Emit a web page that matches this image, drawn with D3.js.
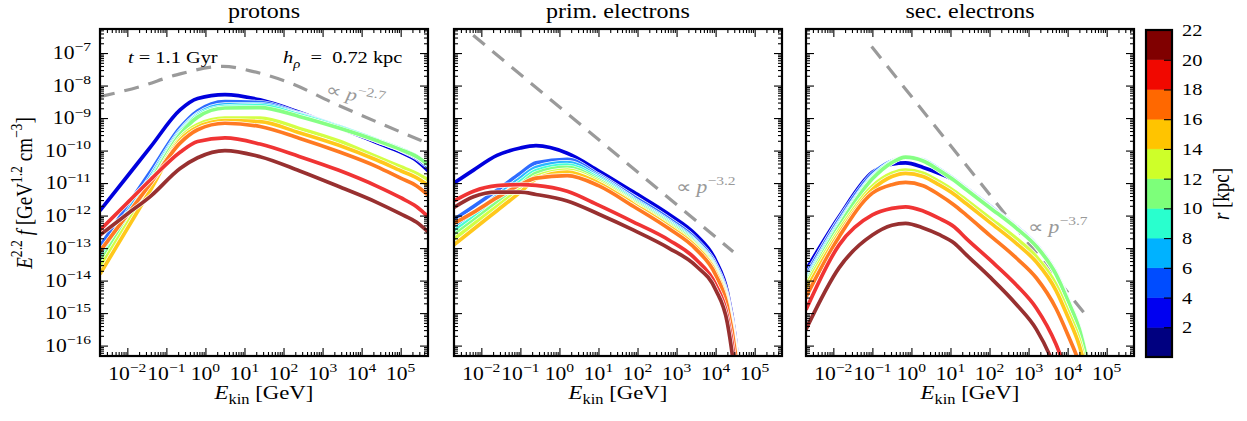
<!DOCTYPE html>
<html><head><meta charset="utf-8">
<script src="https://cdn.jsdelivr.net/npm/d3@7"></script>
<style>
body{margin:0;background:#fff}
text{font-family:"Liberation Serif","Times New Roman",serif;fill:#000;white-space:pre}
</style>
</head><body>
<svg id="chart" width="1247" height="421"></svg>
<script>
// ---------------- DATA ----------------
const panelTitles = ["protons", "prim. electrons", "sec. electrons"];
const radii = [3, 5, 7, 9, 11, 13, 15, 17, 19, 21];           // kpc, one curve each
const lineColors = ["#0000dd", "#2e6cff", "#2ab8ff", "#45ffd5", "#86ff84",
                    "#d3ff45", "#ffc81c", "#ff7a22", "#f03434", "#983030"];
const cbBounds = [0, 2, 4, 6, 8, 10, 12, 14, 16, 18, 20, 22];
const cbColors = ["#000080", "#0000f1", "#004cff", "#00b2ff", "#29ffce", "#7dff7a",
                  "#ceff29", "#ffc400", "#ff6800", "#f10800", "#800000"];
const cbTicks = [2, 4, 6, 8, 10, 12, 14, 16, 18, 20, 22];
const xTickExps = [-2, -1, 0, 1, 2, 3, 4, 5];
const yTickExps = [-16, -15, -14, -13, -12, -11, -10, -9, -8, -7];

// log10(E_kin / GeV) grids and log10(E^2.2 f) values per curve (r = 3 ... 21 kpc)
const protonLogE = [-2.7, -2.0, -1.4, -0.65, -0.2, 0.5, 1.4, 2.4, 3.4, 4.4, 5.0, 5.4, 5.7];
const protonCurves = [
  [-11.85, -10.79, -9.88, -8.75, -8.40, -8.28, -8.44, -8.82, -9.28, -9.76, -10.05, -10.30, -10.62],
  [-12.95, -11.70, -10.64, -9.30, -8.78, -8.49, -8.52, -8.86, -9.25, -9.70, -9.98, -10.22, -10.50],
  [-13.20, -11.90, -10.79, -9.40, -8.88, -8.59, -8.58, -8.88, -9.25, -9.68, -9.95, -10.18, -10.44],
  [-13.35, -12.02, -10.88, -9.45, -8.92, -8.65, -8.62, -8.90, -9.27, -9.68, -9.95, -10.17, -10.42],
  [-13.45, -12.10, -10.94, -9.50, -8.97, -8.69, -8.68, -8.95, -9.30, -9.70, -9.97, -10.18, -10.43],
  [-13.60, -12.24, -11.07, -9.62, -9.20, -9.00, -9.00, -9.32, -9.70, -10.20, -10.50, -10.70, -10.90],
  [-13.80, -12.40, -11.20, -9.68, -9.28, -9.08, -9.11, -9.45, -9.83, -10.30, -10.62, -10.83, -11.06],
  [-13.10, -11.97, -11.00, -9.77, -9.36, -9.16, -9.26, -9.62, -10.03, -10.50, -10.85, -11.08, -11.37],
  [-12.45, -11.61, -10.89, -10.05, -9.72, -9.61, -9.80, -10.18, -10.60, -11.10, -11.45, -11.72, -12.03],
  [-12.60, -11.95, -11.40, -10.55, -10.22, -10.00, -10.19, -10.62, -11.10, -11.60, -11.95, -12.20, -12.50]
];
const protonRefLogE = [-2.7, -1.67, -0.74, 0.45, 1.23, 2.17, 3.28, 4.47, 5.7];
const protonRefLogF = [-8.34, -8.03, -7.67, -7.41, -7.57, -7.92, -8.54, -9.16, -9.78];

const primLogE = [-2.7, -2.2, -1.6, -1.0, -0.6, 0.2, 1.0, 1.9, 2.8, 3.5, 4.0, 4.3, 4.5, 4.6];
const primCurves = [
  [-11.00, -10.60, -10.15, -9.92, -9.85, -10.08, -10.62, -11.28, -11.96, -12.60, -13.38, -14.35, -15.75, -16.95],
  [-12.12, -11.72, -11.22, -10.70, -10.38, -10.27, -10.75, -11.42, -12.10, -12.74, -13.52, -14.49, -15.89, -17.09],
  [-12.35, -11.95, -11.40, -10.85, -10.52, -10.37, -10.80, -11.49, -12.17, -12.81, -13.59, -14.56, -15.96, -17.16],
  [-12.48, -12.05, -11.50, -10.95, -10.62, -10.45, -10.85, -11.53, -12.21, -12.85, -13.63, -14.60, -16.00, -17.20],
  [-12.60, -12.15, -11.60, -11.05, -10.70, -10.52, -10.90, -11.57, -12.25, -12.89, -13.67, -14.64, -16.04, -17.24],
  [-12.72, -12.27, -11.72, -11.17, -10.80, -10.60, -10.95, -11.61, -12.29, -12.93, -13.71, -14.68, -16.08, -17.28],
  [-12.90, -12.42, -11.85, -11.28, -10.88, -10.66, -11.00, -11.65, -12.33, -12.97, -13.75, -14.72, -16.12, -17.32],
  [-12.24, -11.90, -11.45, -11.05, -10.85, -10.77, -11.08, -11.72, -12.40, -13.04, -13.82, -14.79, -16.19, -17.39],
  [-11.55, -11.25, -11.08, -11.05, -11.07, -11.25, -11.68, -12.20, -12.75, -13.35, -14.12, -15.10, -16.60, -17.80],
  [-11.75, -11.42, -11.28, -11.28, -11.35, -11.55, -11.95, -12.45, -13.00, -13.55, -14.28, -15.30, -17.00, -18.20]
];
const primRefLogE = [-2.7, 4.45];
const primRefLogF = [-5.96, -13.11];

const secLogE = [-2.7, -1.85, -1.0, -0.5, -0.15, 0.3, 0.7, 1.1, 1.4, 2.0, 2.7, 3.2, 3.7, 4.0, 4.3, 4.6];
const secCurves = [
  [-13.68, -12.03, -10.67, -10.42, -10.38, -10.52, -10.70, -10.92, -11.18, -11.73, -12.38, -12.93, -13.78, -14.58, -15.48, -16.98],
  [-13.85, -12.12, -10.72, -10.32, -10.20, -10.28, -10.56, -10.88, -11.15, -11.70, -12.35, -12.90, -13.75, -14.55, -15.45, -16.95],
  [-13.95, -12.22, -10.80, -10.34, -10.20, -10.29, -10.57, -10.89, -11.17, -11.72, -12.37, -12.92, -13.77, -14.57, -15.47, -16.97],
  [-14.02, -12.27, -10.83, -10.35, -10.19, -10.31, -10.59, -10.91, -11.19, -11.74, -12.39, -12.94, -13.79, -14.59, -15.49, -16.99],
  [-14.08, -12.32, -10.87, -10.37, -10.20, -10.32, -10.60, -10.92, -11.20, -11.75, -12.40, -12.95, -13.80, -14.60, -15.50, -17.00],
  [-14.15, -12.45, -11.10, -10.70, -10.60, -10.70, -10.95, -11.25, -11.52, -12.07, -12.72, -13.27, -14.12, -14.92, -15.82, -17.30],
  [-14.29, -12.55, -11.20, -10.80, -10.70, -10.80, -11.05, -11.35, -11.63, -12.20, -12.87, -13.43, -14.30, -15.10, -16.00, -17.40],
  [-14.50, -12.65, -11.31, -11.05, -10.98, -11.08, -11.35, -11.68, -11.98, -12.60, -13.32, -13.92, -14.85, -15.65, -16.55, -17.90],
  [-14.90, -12.90, -11.98, -11.78, -11.73, -11.86, -12.08, -12.35, -12.70, -13.35, -14.15, -14.85, -15.95, -16.90, -17.90, -19.00],
  [-15.50, -13.60, -12.60, -12.30, -12.24, -12.38, -12.58, -12.85, -13.20, -13.88, -14.75, -15.50, -16.75, -17.80, -19.00, -20.00]
];
const secRefLogE = [-1.02, 4.57];
const secRefLogF = [-6.80, -15.22];

const refLabels = ["−2.7", "−3.2", "−3.7"];

// ---------------- LAYOUT ----------------
const svg = d3.select("#chart");
const SX = 1.2;               // horizontal glyph stretch of the reference
const panelX = [100, 454, 806], PW = 328, PT = 29, PB = 356;
const xDomain = [Math.pow(10, -2.7), Math.pow(10, 5.7)];
const yDomain = [Math.pow(10, -16.32), Math.pow(10, -6.26)];
const y = d3.scaleLog().domain(yDomain).range([PB, PT]);

function rich(parent, x, yy, parts, o = {}) {
  const size = o.size || 17, rot = o.rot || 0, supR = o.supR || 0.72;
  const tr = o.vert ? `translate(${x},${yy}) rotate(${rot}) scale(1,${SX})`
                    : `translate(${x},${yy}) rotate(${rot}) scale(${SX},1)`;
  const t = parent.append("text").attr("transform", tr)
    .attr("text-anchor", o.anchor || "start").style("font-size", size + "px");
  if (o.fill) t.style("fill", o.fill);
  let cur = 0;
  parts.forEach(p => {
    if (typeof p === "string") p = { t: p };
    const s = t.append("tspan").text(p.t);
    const target = p.sup ? -size * 0.42 : p.sub ? size * 0.28 : 0;
    if (target !== cur) { s.attr("dy", target - cur); cur = target; }
    if (p.sup || p.sub) s.style("font-size", (size * supR) + "px");
    if (p.it) s.style("font-style", "italic");
  });
  return t;
}
function minorTicks(lo, hi) {
  const out = [];
  for (let e = Math.floor(Math.log10(lo)); e <= Math.ceil(Math.log10(hi)); e++)
    for (let m = 2; m <= 9; m++) { const v = m * Math.pow(10, e); if (v > lo && v < hi) out.push(v); }
  return out;
}
const majorX = xTickExps.map(e => Math.pow(10, e));
const majorY = yTickExps.map(e => Math.pow(10, e));
const minorX = minorTicks(xDomain[0], xDomain[1]);
const minorY = minorTicks(yDomain[0], yDomain[1]);

const panelData = [
  { logE: protonLogE, curves: protonCurves, refE: protonRefLogE, refF: protonRefLogF },
  { logE: primLogE, curves: primCurves, refE: primRefLogE, refF: primRefLogF },
  { logE: secLogE, curves: secCurves, refE: secRefLogE, refF: secRefLogF }
];

const defs = svg.append("defs");

panelData.forEach((pd, pi) => {
  const x0 = panelX[pi];
  const x = d3.scaleLog().domain(xDomain).range([x0, x0 + PW]);
  const g = svg.append("g");
  defs.append("clipPath").attr("id", "clip" + pi).append("rect")
    .attr("x", x0).attr("y", PT).attr("width", PW).attr("height", PB - PT);
  const plot = g.append("g").attr("clip-path", `url(#clip${pi})`);

  const line = d3.line().x(d => x(Math.pow(10, d[0]))).y(d => y(Math.pow(10, d[1])))
    .curve(d3.curveMonotoneX);

  // reference power law (dashed)
  const ref = pd.refE.map((e, i) => [e, pd.refF[i]]);
  plot.append("path").attr("d", line(ref)).attr("fill", "none")
    .attr("stroke", "#9a9a9a").attr("stroke-width", 3.2).attr("stroke-dasharray", "15,10");

  // spectra
  pd.curves.forEach((vals, ci) => {
    const pts = pd.logE.map((e, i) => [e, vals[i]]);
    plot.append("path").attr("d", line(pts)).attr("fill", "none")
      .attr("stroke", "#fff").attr("stroke-width", 5).attr("stroke-linejoin", "round");
    plot.append("path").attr("d", line(pts)).attr("fill", "none")
      .attr("stroke", lineColors[ci]).attr("stroke-width", 3.7).attr("stroke-linejoin", "round");
  });

  // axes with inward ticks
  const mk = (axisFn, scale, vals, len) => axisFn(scale).tickValues(vals).tickSize(-len).tickFormat("");
  const axes = [
    [d3.axisBottom, x, `translate(0,${PB})`],
    [d3.axisTop, x, `translate(0,${PT})`],
    [d3.axisLeft, y, `translate(${x0},0)`],
    [d3.axisRight, y, `translate(${x0 + PW},0)`]
  ];
  axes.forEach(([fn, sc, tr], ai) => {
    const isX = ai < 2;
    const a1 = g.append("g").attr("transform", tr).call(mk(fn, sc, isX ? majorX : majorY, 8));
    const a2 = g.append("g").attr("transform", tr).call(mk(fn, sc, isX ? minorX : minorY, 4));
    [a1, a2].forEach(a => { a.select(".domain").remove(); a.selectAll("line").attr("stroke", "#000").attr("stroke-width", 1.1); });
  });
  g.append("rect").attr("x", x0).attr("y", PT).attr("width", PW).attr("height", PB - PT)
    .attr("fill", "none").attr("stroke", "#000").attr("stroke-width", 2.2);

  // x tick labels
  xTickExps.forEach(e => {
    rich(g, x(Math.pow(10, e)), 380, ["10", { t: e < 0 ? "−" + (-e) : String(e), sup: true }], { anchor: "middle", size: 18 });
  });
  // x label
  rich(g, x0 + PW / 2, 399, [{ t: "E", it: true }, { t: "kin", sub: true }, " [GeV]"], { anchor: "middle", size: 19 });
  // title
  rich(g, x0 + PW / 2, 18, [panelTitles[pi]], { anchor: "middle", size: 20 });

  // power-law label
  const lbl = [[325, 95, 12], [676, 193, 0], [1028, 233, 0]][pi];
  rich(g, lbl[0], lbl[1], [{ t: "∝ " }, { t: "p", it: true }, { t: refLabels[pi], sup: true }],
       { size: 18, rot: lbl[2], fill: "#999" });
});

// y tick labels (left panel only)
yTickExps.forEach(e => {
  rich(svg, 91, y(Math.pow(10, e)) + 6, ["10", { t: "−" + (-e), sup: true }], { anchor: "end", size: 18 });
});
// y label
rich(svg, 32, 193, [{ t: "E", it: true }, { t: "2.2", sup: true }, " ", { t: "f", it: true },
  " [GeV", { t: "1.2", sup: true }, " cm", { t: "−3", sup: true }, "]"],
  { anchor: "middle", size: 19, rot: -90, vert: true });

// annotations in the proton panel
rich(svg, 128, 63, [{ t: "t", it: true }, " = 1.1 Gyr"], { size: 17 });
rich(svg, 283, 63, [{ t: "h", it: true }, { t: "ρ", it: true, sub: true }, "  =  0.72 kpc"], { size: 17 });

// ---------------- COLORBAR ----------------
const cbX = 1146, cbW = 26;
const cy = d3.scaleLinear().domain([0, 22]).range([357, 30]);
const cb = svg.append("g");
cbColors.forEach((c, i) => {
  cb.append("rect").attr("x", cbX).attr("y", cy(cbBounds[i + 1])).attr("width", cbW)
    .attr("height", cy(cbBounds[i]) - cy(cbBounds[i + 1])).attr("fill", c).attr("stroke", c).attr("stroke-width", 0.5);
});
const cbAxis = cb.append("g").attr("transform", `translate(${cbX + cbW},0)`)
  .call(d3.axisLeft(cy).tickValues(cbTicks.filter(v => v < 22)).tickSize(8).tickFormat(""));
cbAxis.select(".domain").remove();
cbAxis.selectAll("line").attr("stroke", "#000").attr("stroke-width", 1.1);
cb.append("rect").attr("x", cbX).attr("y", 30).attr("width", cbW).attr("height", 327)
  .attr("fill", "none").attr("stroke", "#000").attr("stroke-width", 2.2);
cbTicks.forEach(v => rich(cb, 1182, cy(v) + 6, [String(v)], { size: 17 }));
rich(cb, 1229, 194, [{ t: "r", it: true }, " [kpc]"], { anchor: "middle", size: 19, rot: -90, vert: true });
</script>
</body></html>
